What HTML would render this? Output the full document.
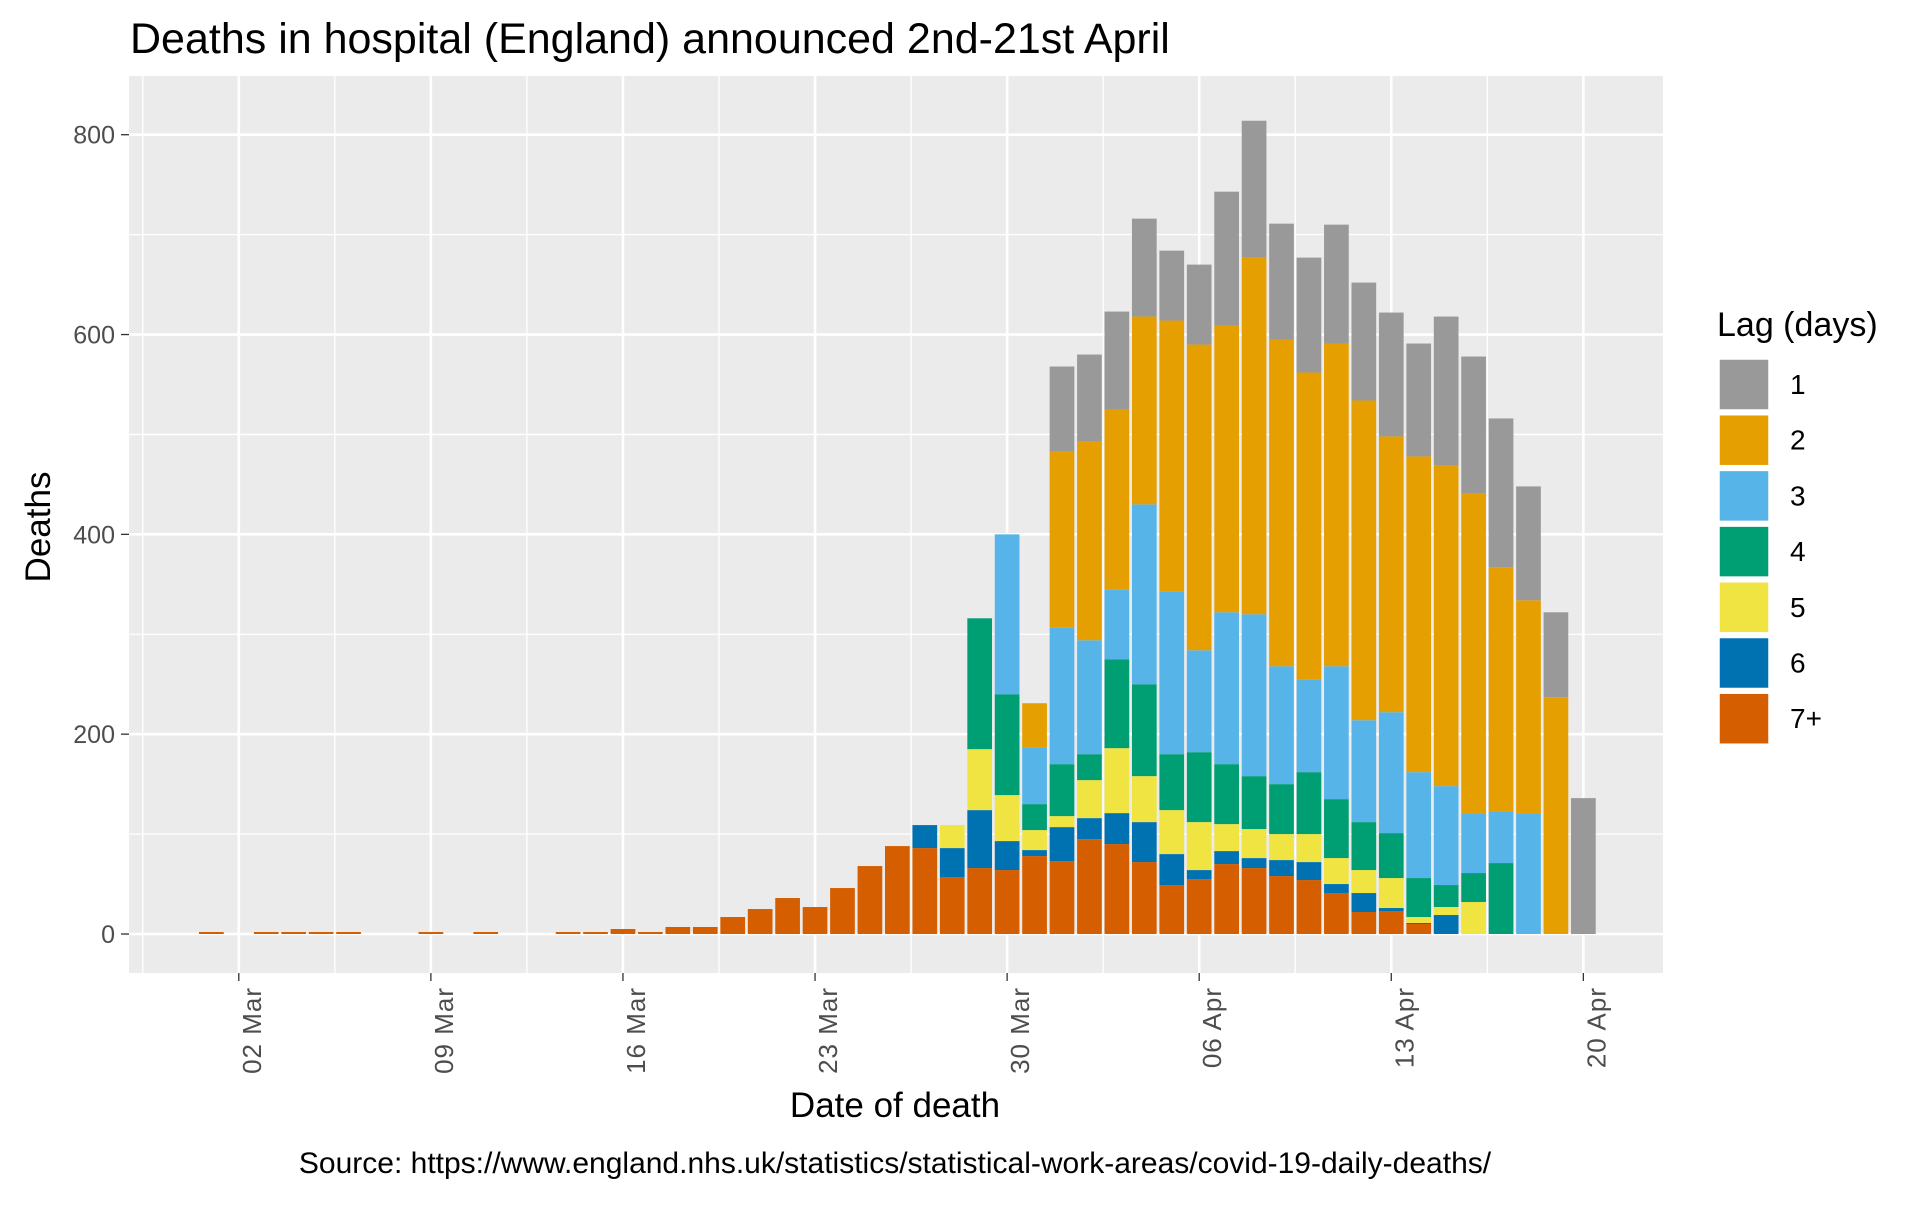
<!DOCTYPE html>
<html><head><meta charset="utf-8">
<style>
html,body{margin:0;padding:0;background:#fff;}
svg{display:block;font-family:"Liberation Sans",Arial,sans-serif;}
</style></head>
<body>
<svg id="chart" width="1920" height="1213" viewBox="0 0 1920 1213" xmlns="http://www.w3.org/2000/svg">
<rect x="0" y="0" width="1920" height="1213" fill="#fff"/>
<text x="130" y="53" font-size="43" fill="#000">Deaths in hospital (England) announced 2nd-21st April</text>
<rect x="129" y="76" width="1534" height="897" fill="#ebebeb"/>
<g id="grid"></g>
<g id="bars"></g>
<g id="axes"></g>
<text x="0" y="0" transform="translate(50,527) rotate(-90)" text-anchor="middle" font-size="35" fill="#000">Deaths</text>
<text x="895" y="1117" text-anchor="middle" font-size="35" fill="#000">Date of death</text>
<text x="895" y="1173" text-anchor="middle" font-size="30" fill="#000">Source: https://www.england.nhs.uk/statistics/statistical-work-areas/covid-19-daily-deaths/</text>
<g id="legend">
<text x="1717" y="336" font-size="34" fill="#000">Lag (days)</text>
</g>
</svg>
<script>
const days = ["01 Mar","02 Mar","03 Mar","04 Mar","05 Mar","06 Mar","07 Mar","08 Mar","09 Mar","10 Mar","11 Mar","12 Mar","13 Mar","14 Mar","15 Mar","16 Mar","17 Mar","18 Mar","19 Mar","20 Mar","21 Mar","22 Mar","23 Mar","24 Mar","25 Mar","26 Mar","27 Mar","28 Mar","29 Mar","30 Mar","31 Mar","01 Apr","02 Apr","03 Apr","04 Apr","05 Apr","06 Apr","07 Apr","08 Apr","09 Apr","10 Apr","11 Apr","12 Apr","13 Apr","14 Apr","15 Apr","16 Apr","17 Apr","18 Apr","19 Apr","20 Apr"];
const lagNames = ["7+","6","5","4","3","2","1"];
const lagColors = ["#d55e00","#0072b2","#f0e442","#009e73","#56b4e9","#e69f00","#999999"];
const lag7 = [2,0,2,2,2,2,0,0,2,0,2,0,0,2,2,5,2,7,7,17,25,36,27,46,68,88,86,57,66,64,78,73,95,90,72,49,55,70,66,58,54,41,22,23,10,0,0,0,0,0,0];
const lag6 = [0,0,0,0,0,0,0,0,0,0,0,0,0,0,0,0,0,0,0,0,0,0,0,0,0,0,23,29,58,29,6,34,21,31,40,31,9,13,10,16,18,9,19,3,1,19,0,0,0,0,0];
const lag5 = [0,0,0,0,0,0,0,0,0,0,0,0,0,0,0,0,0,0,0,0,0,0,0,0,0,0,0,23,61,46,20,11,38,65,46,44,48,27,29,26,28,26,23,30,6,8,32,0,0,0,0];
const lag4 = [0,0,0,0,0,0,0,0,0,0,0,0,0,0,0,0,0,0,0,0,0,0,0,0,0,0,0,0,131,101,26,52,26,89,92,56,70,60,53,50,62,59,48,45,39,22,29,71,0,0,0];
const lag3 = [0,0,0,0,0,0,0,0,0,0,0,0,0,0,0,0,0,0,0,0,0,0,0,0,0,0,0,0,0,160,57,137,114,70,180,163,102,152,162,118,93,133,102,121,106,99,60,52,121,0,0];
const lag2 = [0,0,0,0,0,0,0,0,0,0,0,0,0,0,0,0,0,0,0,0,0,0,0,0,0,0,0,0,0,0,44,176,199,180,188,271,306,287,357,327,307,323,320,276,316,321,320,244,213,237,0];
const lag1 = [0,0,0,0,0,0,0,0,0,0,0,0,0,0,0,0,0,0,0,0,0,0,0,0,0,0,0,0,0,0,0,85,87,98,98,70,80,134,137,116,115,119,118,124,113,149,137,149,114,85,136];
const yTicks = [0,200,400,600,800];
const yMinor = [100,300,500,700];
const xTickLabels = ["02 Mar","09 Mar","16 Mar","23 Mar","30 Mar","06 Apr","13 Apr","20 Apr"];

const NS = "http://www.w3.org/2000/svg";
const PL = 129, PR = 1663, PT = 76, PB = 973;
const DAY = 27.44;
function xDay(i){ return 238.8 + (i - 1) * DAY; }
function xLabel(lbl){ return xDay(days.indexOf(lbl)); }
function yv(v){ return 934 - v * 0.9991; }
function mk(tag, attrs, parent){ const e = document.createElementNS(NS, tag); for (const k in attrs) e.setAttribute(k, attrs[k]); parent.appendChild(e); return e; }

const grid = document.getElementById('grid');
yMinor.forEach(v => {
  const l = mk('line', {x1:PL, x2:PR, y1:yv(v), y2:yv(v), stroke:'#fff', 'stroke-width':1.3}, grid);
  
  
});
yTicks.forEach(v => {
  const l = mk('line', {x1:PL, x2:PR, y1:yv(v), y2:yv(v), stroke:'#fff', 'stroke-width':2.6}, grid);
  
  
});
for (let k = -1; k < xTickLabels.length; k++) {
  const base = k >= 0 ? xLabel(xTickLabels[k]) : xLabel(xTickLabels[0]) - 7 * DAY;
  const xm = base + 3.5 * DAY;
  if (xm > PL && xm < PR) {
    const l = mk('line', {x1:xm, x2:xm, y1:PT, y2:PB, stroke:'#fff', 'stroke-width':1.3}, grid);
    
    
  }
}
xTickLabels.forEach(t => {
  const x = xLabel(t);
  const l = mk('line', {x1:x, x2:x, y1:PT, y2:PB, stroke:'#fff', 'stroke-width':2.6}, grid);
  
  
});

const bars = document.getElementById('bars');
const series = [lag7, lag6, lag5, lag4, lag3, lag2, lag1];
const BW = DAY * 0.9;
days.forEach((d, i) => {
  let cum = 0;
  series.forEach((s, si) => {
    const v = s[i];
    if (v > 0) {
      const r = mk('rect', {x:xDay(i) - BW/2, y:yv(cum + v), width:BW, height:yv(cum) - yv(cum + v), fill:lagColors[si]}, bars);
      
      
    }
    cum += v;
  });
});

const axes = document.getElementById('axes');
yTicks.forEach(v => {
  const tk = mk('line', {x1:PL - 8, x2:PL, y1:yv(v), y2:yv(v), stroke:'#333', 'stroke-width':1.3}, axes);
  
  
  const t = mk('text', {x:PL - 14, y:yv(v) + 9, 'text-anchor':'end', 'font-size':25, fill:'#4d4d4d'}, axes);
  
  
  t.textContent = v;
});
xTickLabels.forEach(lbl => {
  const x = xLabel(lbl);
  const tk = mk('line', {x1:x, x2:x, y1:PB, y2:PB + 8, stroke:'#333', 'stroke-width':1.3}, axes);
  
  
  const t = mk('text', {x:0, y:0, transform:'translate(' + (x + 22) + ',' + (PB + 14) + ') rotate(-90)', 'text-anchor':'end', 'font-size':26, 'letter-spacing':'1', fill:'#4d4d4d'}, axes);
  
  
  t.textContent = lbl;
});

const legend = document.getElementById('legend');
const legendOrder = [6,5,4,3,2,1,0];
legendOrder.forEach((si, k) => {
  const y = 359 + k * 55.7;
  const r = mk('rect', {x:1719, y:y, width:50, height:51, fill:lagColors[si], stroke:'#fff', 'stroke-width':1.5}, legend);
  
  
  const t = mk('text', {x:1790, y:y + 35, 'font-size':28, fill:'#000'}, legend);
  
  
  t.textContent = lagNames[si];
});
</script>
</body></html>
